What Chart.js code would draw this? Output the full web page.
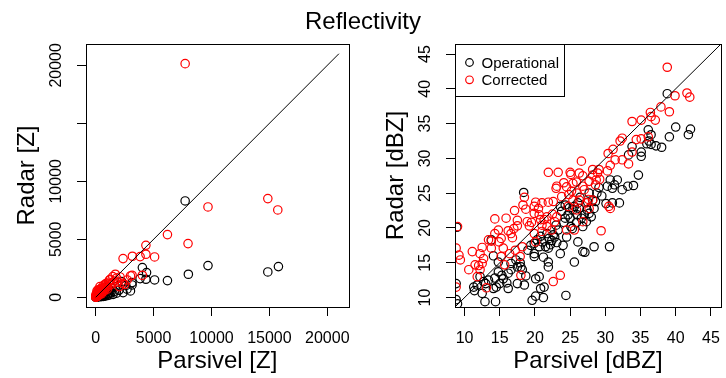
<!DOCTYPE html>
<html>
<head>
<meta charset="utf-8">
<script src="https://cdn.jsdelivr.net/npm/chart.js@4"></script>
<style>
  body { margin: 0; width: 726px; height: 378px; overflow: hidden; background: #fff; position: relative;
         font-family: "Liberation Sans", Arial, sans-serif; }
  #left { position: absolute; left: 0; top: 0; }
  #right { position: absolute; left: 363px; top: 0; }
  #title { position: absolute; left: 0; top: 7px; width: 726px; text-align: center; font-size: 24px; line-height: 28px; z-index: 2; }
</style>
</head>
<body>
<canvas id="left" width="363" height="378"></canvas>
<canvas id="right" width="370" height="378"></canvas>
<div id="title">Reflectivity</div>
<script>
// ---- left panel, linear units [Z] ----
const opZx = [7722, 9695, 15778, 14862, 8000, 6194, 5083, 4333, 4389, 4028, 3833, 3139, 3139, 3000, 2361, 2250, 2306,
  2000, 1800, 1600, 1500, 1300, 1200, 1100, 1000, 900, 800, 700, 650, 600, 550, 500, 450, 400, 350, 300, 250, 200,
  150, 120, 100, 80, 60, 40, 30, 20, 10, 8, 1400, 1200, 1000, 850, 700, 2700, 1700, 950, 500, 300, 180, 2600];
const opZy = [8306, 2730, 2644, 2184, 1983, 1437, 1494, 1552, 2127, 2558, 1609, 1264, 1063, 546, 402, 1351, 1063,
  600, 350, 500, 250, 400, 200, 300, 150, 250, 100, 200, 80, 300, 150, 60, 200, 100, 40, 150, 60, 100,
  30, 70, 20, 50, 15, 30, 10, 20, 8, 10, 800, 650, 500, 600, 450, 700, 900, 850, 400, 280, 200, 1000];
const corZx = [7722, 14862, 15723, 9695, 7972, 6194, 5083, 4333, 4333, 3833, 3167, 2361, 3000, 3139, 4028, 2722, 2306,
  2028, 1694, 1472, 1194, 917, 361, 639,
  1100, 1000, 850, 700, 600, 500, 450, 400, 350, 300, 250, 200, 150, 120, 100, 80, 60, 50, 40, 30, 20, 10, 15, 25,
  70, 180, 220, 280, 330, 380, 430, 520, 560, 650, 750, 800, 900, 1300, 1450, 1250, 1600, 1800, 2100, 2500, 1900,
  8, 12, 35, 60, 90, 140, 160, 260, 300, 210, 110, 500, 700, 1000];
const corZy = [20147, 8507, 7530, 7789, 4627, 5403, 3478, 4483, 3708, 3506, 3535, 3334, 1839, 1897, 1897, 1494, 1207,
  920, 1983, 1782, 1494, 1207, 920, 776,
  1300, 950, 1100, 1050, 650, 800, 550, 700, 450, 600, 350, 500, 250, 400, 200, 150, 100, 300, 60, 120, 40, 20, 80, 200,
  250, 180, 300, 230, 300, 380, 420, 600, 450, 820, 700, 900, 800, 1100, 1250, 1550, 1400, 1650, 1750, 1100, 1300,
  10, 30, 25, 40, 70, 110, 330, 160, 420, 650, 550, 300, 500, 700];
const zTicks = [0, 5000, 10000, 15000, 20000];
const zXLabels = ['0', '5000', '10000', '15000', '20000'];
const zYLabels = ['0', '5000', '10000', '', '20000'];
const zOneToOne = [0, 21000];

// ---- right panel, log units [dBZ] ----
const opX = [38.8, 40.0, 42.1, 41.8, 39.1, 36.1, 36.5, 36.2, 35.9, 36.5, 37.2, 38.0, 33.8, 33.3, 35.1, 35.1, 34.7, 34.0,
  33.2, 32.4, 31.7, 31.3, 30.7, 30.3, 31.0, 30.1, 31.0, 32.0, 30.6, 28.8, 27.7, 28.2, 28.4, 27.7, 27.0, 26.6, 27.3,
  26.8, 26.1, 25.6, 26.3, 25.4, 24.3, 24.7, 24.3, 24.1, 25.0, 25.9, 26.1, 26.8, 27.1, 25.6, 28.4, 24.5, 22.8, 23.1,
  23.3, 22.6, 22.4, 21.9, 21.5, 21.0, 20.8, 20.6, 19.9, 19.4, 19.9, 21.2, 21.9, 21.9, 19.9, 20.1, 20.6, 20.8, 21.3,
  21.2, 20.1, 19.6, 24.4, 18.4, 18.0, 18.2, 17.5, 17.3, 16.6, 16.6, 16.2, 15.5, 16.0, 17.5, 18.5, 18.7, 16.2, 14.8,
  14.3, 15.0, 14.5, 14.1, 14.8, 14.1, 13.8, 13.4, 12.7, 12.2, 11.8, 11.3, 12.5, 12.9, 14.4, 9.0, 8.8, 8.8, 8.9,
  23.6, 21.7, 23.6, 29.1, 27.5, 22.0, 20.3, 17.9, 15.3, 13.0, 28.0, 25.3, 19.0, 11.4,
  23.8, 24.9, 26.0, 27.4, 28.6, 29.5, 26.4, 25.1, 23.0, 22.2, 24.0];
const opY = [39.3, 34.5, 34.2, 33.4, 33.1, 34.1, 33.4, 32.5, 32.1, 32.0, 31.8, 31.6, 31.7, 30.5, 30.9, 30.3, 27.6, 26.1,
  26.0, 25.5, 26.9, 26.2, 26.9, 26.0, 25.7, 23.5, 23.6, 23.6, 17.3, 25.0, 25.0, 24.0, 22.8, 22.1, 21.9, 21.4, 20.9,
  20.2, 23.6, 23.1, 22.8, 22.6, 23.3, 21.9, 21.4, 20.8, 21.4, 20.8, 18.0, 16.6, 16.5, 15.1, 17.3, 18.7, 18.7, 17.9,
  19.7, 19.0, 18.2, 17.1, 17.3, 18.0, 18.8, 17.3, 17.8, 17.5, 16.3, 15.8, 15.1, 14.4, 15.9, 12.7, 13.0, 11.3, 11.5,
  10.0, 10.2, 9.6, 10.3, 25.1, 14.4, 14.0, 14.4, 15.4, 14.9, 14.0, 13.5, 12.7, 12.1, 12.0, 11.8, 13.1, 11.3, 13.7,
  12.8, 12.0, 11.5, 11.3, 15.1, 16.0, 18.3, 12.5, 12.3, 13.0, 11.8, 11.5, 10.6, 9.4, 9.4, 9.1, 9.7, 12.0, 20.1,
  23.1, 19.2, 16.3, 25.8, 23.7, 18.5, 18.3, 15.0, 13.2, 12.0, 21.6, 19.9, 16.8, 11.0,
  22.4, 22.9, 21.9, 22.6, 23.8, 24.6, 24.4, 20.2, 20.4, 17.6, 17.5];
const corX = [38.8, 41.6, 42.0, 39.9, 37.9, 39.1, 36.4, 36.5, 37.1, 35.1, 33.8, 36.1, 35.1, 34.4, 32.4, 32.1, 33.8, 33.3,
  32.4, 31.4, 31.1, 30.4, 30.7, 30.3, 29.1, 28.2, 28.2, 28.7, 28.6, 27.7, 26.6, 25.0, 25.1, 23.3, 21.9, 26.3, 26.8,
  25.9, 25.4, 24.1, 23.0, 23.8, 22.6, 21.9, 21.0, 20.1, 19.9, 18.5, 18.7, 17.1, 17.5, 17.5, 15.9, 14.3, 14.8, 14.3,
  16.2, 16.6, 18.9, 19.2, 19.9, 20.6, 20.8, 21.3, 21.7, 21.0, 21.7, 22.4, 23.1, 19.9, 21.0, 20.1, 24.5, 25.6, 29.4,
  26.8, 27.3, 27.6, 28.2, 27.7, 30.5, 30.7, 13.4, 13.8, 15.2, 13.8, 12.5, 12.2, 12.7, 11.1, 11.5, 12.5, 12.2, 10.6,
  11.8, 13.1, 9.2, 9.4, 8.8, 9.0, 8.8, 18.2, 18.0, 15.7, 15.5, 16.4, 17.2, 15.2, 22.6, 23.6, 23.1, 17.9, 24.5, 24.7,
  25.9, 26.3, 25.4, 27.0, 26.0, 28.9, 24.8, 22.5, 20.5, 19.5, 16.8, 14.9, 12.0, 17.0, 18.3, 22.8, 29.2, 26.8, 25.2];
const corY = [43.1, 39.4, 38.8, 39.0, 37.4, 36.7, 36.6, 36.0, 35.5, 35.5, 35.3, 33.1, 32.8, 32.7, 32.9, 32.5, 30.9, 29.2,
  29.8, 29.8, 31.3, 30.7, 29.0, 28.2, 28.4, 28.4, 27.6, 26.9, 26.2, 26.7, 29.6, 28.0, 27.7, 28.0, 28.0, 27.9, 27.5,
  26.6, 26.4, 26.5, 25.7, 24.5, 23.8, 23.7, 23.6, 23.7, 23.1, 24.4, 22.7, 22.5, 21.1, 20.3, 21.4, 21.3, 19.7, 19.2,
  19.6, 19.2, 20.9, 20.3, 22.1, 21.9, 21.2, 21.2, 21.6, 20.4, 20.2, 19.7, 21.6, 19.2, 19.5, 18.0, 19.7, 19.7, 19.6,
  20.9, 23.6, 24.1, 24.0, 22.8, 23.1, 22.8, 18.3, 18.1, 18.5, 17.1, 17.2, 16.3, 15.6, 16.6, 14.7, 14.9, 14.0, 14.0,
  13.0, 11.4, 16.1, 15.4, 17.1, 20.2, 11.5, 17.3, 13.2, 14.7, 17.1, 16.3, 16.8, 15.9, 12.3, 13.2, 26.0, 15.9, 25.9, 23.1,
  22.6, 24.0, 24.0, 25.5, 25.0, 27.9, 24.8, 22.0, 22.8, 20.8, 18.6, 18.0, 14.6, 19.9, 23.3, 20.9, 27.0, 26.0, 25.3];
const dbzTicks = [10, 15, 20, 25, 30, 35, 40, 45];
const dbzLabels = ['10', '15', '20', '25', '30', '35', '40', '45'];
const dbzOneToOne = [0, 50];

const FONT = '"Liberation Sans", Arial, sans-serif';
const toPts = (xs, ys) => xs.map((x, i) => ({x: x, y: ys[i]}));

// box, rotated y tick labels and the in-plot legend, R style
const rPlot = {
  id: 'rPlot',
  afterDraw(chart, args, o) {
    const ctx = chart.ctx, a = chart.chartArea;
    ctx.save();
    ctx.strokeStyle = '#000';
    ctx.lineWidth = 1;
    ctx.strokeRect(Math.round(a.left) + 0.5, Math.round(a.top) + 0.5,
      Math.round(a.right - a.left), Math.round(a.bottom - a.top));
    ctx.fillStyle = '#000';
    ctx.font = '16px ' + FONT;
    ctx.textAlign = 'center';
    ctx.textBaseline = 'middle';
    o.yTicks.forEach((v, i) => {
      if (!o.yLabels[i]) return;
      ctx.save();
      ctx.translate(a.left - o.yLabelGap, chart.scales.y.getPixelForValue(v));
      ctx.rotate(-Math.PI / 2);
      ctx.fillText(o.yLabels[i], 0, 0);
      ctx.restore();
    });
    if (o.legend) {
      const x0 = Math.round(a.left) + 0.5, y0 = Math.round(a.top) + 0.5;
      ctx.fillStyle = '#fff';
      ctx.fillRect(x0, y0, 109, 52);
      ctx.strokeRect(x0, y0, 109, 52);
      ctx.font = '15px ' + FONT;
      ctx.textAlign = 'left';
      ctx.lineWidth = 1.2;
      chart.data.datasets.filter(d => d.label).forEach((d, i) => {
        const cy = y0 + 18 + i * 17.3;
        ctx.beginPath();
        ctx.arc(x0 + 14, cy, 3.8, 0, Math.PI * 2);
        ctx.strokeStyle = d.pointBorderColor;
        ctx.stroke();
        ctx.fillStyle = '#000';
        ctx.fillText(d.label, x0 + 26, cy + 1);
      });
    }
    ctx.restore();
  }
};

function makeChart(id, cfg) {
  const scatterSet = (label, xs, ys, color, order) => ({
    label: label, data: toPts(xs, ys), order: order, clip: 0,
    pointRadius: 4.2, pointHoverRadius: 4.2, pointBorderWidth: 1.2,
    pointBorderColor: color, pointBackgroundColor: 'rgba(0,0,0,0)', showLine: false
  });
  const axis = (min, max, ticks, labels, title, isX, size, titlePad) => ({
    type: 'linear', min: min, max: max,
    afterBuildTicks: s => { s.ticks = ticks.map(v => ({value: v})); },
    afterFit: s => { if (isX) s.height = size; else s.width = size; },
    grid: { drawOnChartArea: false, drawTicks: true, tickLength: 9, tickColor: '#000', lineWidth: 1 },
    border: { display: false },
    ticks: {
      display: isX, autoSkip: false, maxRotation: 0, minRotation: 0, padding: 13, color: '#000',
      font: { family: FONT, size: 16 },
      callback: (v) => labels[ticks.indexOf(v)]
    },
    title: { display: true, text: title, color: '#000', font: { family: FONT, size: 24 },
             padding: isX ? { top: 0, bottom: titlePad } : { top: titlePad, bottom: 0 } }
  });
  return new Chart(document.getElementById(id), {
    type: 'scatter',
    data: {
      datasets: [
        { label: '', data: toPts(cfg.line, cfg.line), showLine: true, borderColor: '#000', borderWidth: 1,
          pointRadius: 0, order: -1, clip: 0 },
        scatterSet('Operational', cfg.opX, cfg.opY, '#000000', 2),
        scatterSet('Corrected', cfg.corX, cfg.corY, '#ff0000', 1)
      ]
    },
    options: {
      responsive: false, animation: false, events: [],
      layout: { padding: cfg.padding },
      plugins: { legend: { display: false }, tooltip: { enabled: false },
                 rPlot: { yTicks: cfg.ticks, yLabels: cfg.yLabels, yLabelGap: 29, legend: cfg.legend } },
      scales: {
        x: axis(cfg.min, cfg.max, cfg.ticks, cfg.xLabels, cfg.xTitle, true, 71, 2),
        y: axis(cfg.min, cfg.max, cfg.ticks, cfg.yLabels, cfg.yTitle, false, cfg.yWidth, cfg.yWidth - 59 - 14.4)
      }
    },
    plugins: [rPlot]
  });
}

makeChart('left', {
  opX: opZx, opY: opZy, corX: corZx, corY: corZy, line: zOneToOne,
  min: -840, max: 21840, ticks: zTicks, xLabels: zXLabels, yLabels: zYLabels,
  xTitle: 'Parsivel [Z]', yTitle: 'Radar [Z]', yWidth: 86, legend: false,
  padding: { top: 44, right: 5, bottom: 0, left: 0 }
});
makeChart('right', {
  opX: opX, opY: opY, corX: corX, corY: corY, line: dbzOneToOne,
  min: 8.64, max: 46.44, ticks: dbzTicks, xLabels: dbzLabels, yLabels: dbzLabels,
  xTitle: 'Parsivel [dBZ]', yTitle: 'Radar [dBZ]', yWidth: 92, legend: true,
  padding: { top: 44, right: 5.5, bottom: 0, left: 0 }
});
</script>
</body>
</html>
